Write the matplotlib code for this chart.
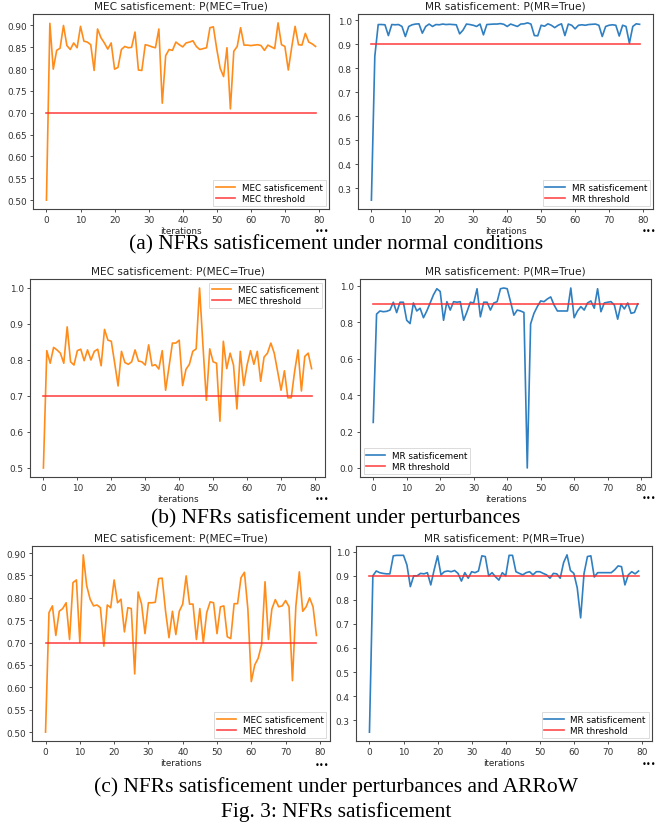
import numpy as np
import matplotlib
matplotlib.use('Agg')
import matplotlib.pyplot as plt
from matplotlib.ticker import MultipleLocator, FormatStrFormatter

# values, one per iteration (0..79)
mec_normal = [0.50, 0.905, 0.80, 0.843, 0.848, 0.90, 0.854, 0.845, 0.86, 0.849,
              0.898, 0.864, 0.862, 0.856, 0.797, 0.892, 0.872, 0.86, 0.846, 0.86,
              0.80, 0.804, 0.845, 0.852, 0.849, 0.85, 0.885, 0.798, 0.797, 0.856,
              0.854, 0.851, 0.849, 0.892, 0.722, 0.831, 0.845, 0.843, 0.862, 0.856,
              0.851, 0.86, 0.862, 0.865, 0.852, 0.845, 0.847, 0.849, 0.895, 0.897,
              0.846, 0.802, 0.783, 0.849, 0.709, 0.841, 0.852, 0.895, 0.855, 0.855,
              0.854, 0.855, 0.856, 0.854, 0.843, 0.855, 0.851, 0.847, 0.906, 0.856,
              0.852, 0.798, 0.85, 0.898, 0.856, 0.855, 0.882, 0.862, 0.858, 0.852]
mr_normal = [0.25, 0.85, 0.983, 0.983, 0.982, 0.937, 0.983, 0.982, 0.983, 0.975,
             0.933, 0.975, 0.982, 0.985, 0.986, 0.947, 0.975, 0.985, 0.975, 0.983,
             0.982, 0.985, 0.983, 0.984, 0.983, 0.982, 0.944, 0.96, 0.985, 0.983,
             0.98, 0.975, 0.985, 0.94, 0.983, 0.984, 0.985, 0.985, 0.987, 0.984,
             0.975, 0.985, 0.98, 0.975, 0.985, 0.986, 0.99, 0.985, 0.937, 0.936,
             0.98, 0.976, 0.986, 0.98, 0.97, 0.98, 0.986, 0.937, 0.985, 0.98,
             0.965, 0.98, 0.982, 0.98, 0.983, 0.984, 0.985, 0.98, 0.933, 0.975,
             0.98, 0.982, 0.98, 0.935, 0.98, 0.975, 0.905, 0.975, 0.986, 0.984]

mec_perturb = [0.50, 0.826, 0.791, 0.835, 0.828, 0.819, 0.791, 0.892, 0.795, 0.786,
               0.826, 0.83, 0.798, 0.828, 0.80, 0.824, 0.83, 0.784, 0.885, 0.855,
               0.852, 0.791, 0.728, 0.824, 0.793, 0.788, 0.795, 0.828, 0.797, 0.795,
               0.786, 0.842, 0.784, 0.787, 0.775, 0.826, 0.716, 0.781, 0.847, 0.847,
               0.855, 0.729, 0.774, 0.788, 0.824, 0.831, 1.0, 0.84, 0.688, 0.831,
               0.795, 0.791, 0.63, 0.852, 0.776, 0.819, 0.786, 0.664, 0.824, 0.729,
               0.786, 0.826, 0.788, 0.824, 0.741, 0.808, 0.819, 0.847, 0.819, 0.768,
               0.716, 0.77, 0.695, 0.695, 0.768, 0.828, 0.714, 0.81, 0.819, 0.776]
mr_perturb = [0.25, 0.844, 0.861, 0.857, 0.859, 0.866, 0.909, 0.852, 0.909, 0.909,
              0.81, 0.792, 0.905, 0.861, 0.876, 0.824, 0.861, 0.905, 0.95, 0.983,
              0.968, 0.81, 0.912, 0.866, 0.912, 0.909, 0.912, 0.81, 0.857, 0.909,
              0.905, 0.983, 0.829, 0.909, 0.909, 0.866, 0.905, 0.912, 0.983, 0.987,
              0.983, 0.912, 0.838, 0.866, 0.861, 0.853, 0.0, 0.79, 0.848, 0.885,
              0.916, 0.912, 0.927, 0.938, 0.894, 0.861, 0.861, 0.861, 0.861, 0.987,
              0.824, 0.861, 0.885, 0.866, 0.905, 0.916, 0.876, 0.983, 0.857, 0.905,
              0.909, 0.912, 0.894, 0.816, 0.898, 0.872, 0.905, 0.848, 0.853, 0.90]

mec_arrow = [0.50, 0.767, 0.782, 0.716, 0.77, 0.776, 0.789, 0.707, 0.834, 0.84,
             0.70, 0.896, 0.827, 0.797, 0.782, 0.784, 0.778, 0.692, 0.784, 0.778,
             0.84, 0.789, 0.797, 0.724, 0.778, 0.776, 0.63, 0.813, 0.786, 0.72,
             0.789, 0.789, 0.79, 0.843, 0.844, 0.77, 0.711, 0.77, 0.718, 0.77,
             0.786, 0.849, 0.786, 0.786, 0.707, 0.776, 0.70, 0.767, 0.791, 0.789,
             0.72, 0.78, 0.782, 0.713, 0.709, 0.787, 0.787, 0.845, 0.857, 0.775,
             0.613, 0.65, 0.665, 0.695, 0.836, 0.707, 0.775, 0.796, 0.78, 0.782,
             0.794, 0.78, 0.615, 0.782, 0.858, 0.77, 0.78, 0.80, 0.78, 0.716]
mr_arrow = [0.25, 0.90, 0.92, 0.913, 0.91, 0.908, 0.908, 0.983, 0.985, 0.985,
            0.985, 0.945, 0.855, 0.90, 0.90, 0.91, 0.908, 0.913, 0.862, 0.925,
            0.983, 0.904, 0.917, 0.92, 0.917, 0.922, 0.91, 0.878, 0.913, 0.89,
            0.917, 0.913, 0.92, 0.983, 0.98, 0.90, 0.913, 0.896, 0.882, 0.913,
            0.90, 0.985, 0.985, 0.917, 0.91, 0.904, 0.913, 0.917, 0.904, 0.917,
            0.917, 0.91, 0.904, 0.89, 0.91, 0.908, 0.89, 0.955, 0.987, 0.922,
            0.91, 0.85, 0.725, 0.91, 0.98, 0.983, 0.895, 0.913, 0.913, 0.913,
            0.913, 0.913, 0.925, 0.941, 0.938, 0.862, 0.904, 0.917, 0.908, 0.92]

mec_threshold = 0.7
mr_threshold = 0.9

captions = ['(a) NFRs satisficement under normal conditions',
            '(b) NFRs satisficement under perturbances',
            '(c) NFRs satisficement under perturbances and ARRoW']
fig_caption = 'Fig. 3: NFRs satisficement'

W, H = 658, 828


def box(x0, y0, x1, y1):
    """pixel box (top-left origin) -> figure fraction rect"""
    return [x0 / W, 1 - y1 / H, (x1 - x0) / W, (y1 - y0) / H]


def panel(fig, rect, values, threshold, name, color, loc, step, fmt):
    ax = fig.add_axes(rect)
    it = np.arange(len(values))
    ax.plot(it, values, color=color, lw=1.2, label=name + ' satisficement')
    ax.plot(it, [threshold] * len(values), color='#ff2a2a', lw=1.2,
            alpha=0.85, label=name + ' threshold')
    ax.set_title('%s satisficement: P(%s=True)' % (name, name),
                 fontsize=7.6, color='#222222', pad=4)
    ax.set_xlabel('iterations', fontsize=6.3, color='#222222', labelpad=1)
    ax.xaxis.set_major_locator(MultipleLocator(10))
    ax.yaxis.set_major_locator(MultipleLocator(step))
    ax.yaxis.set_major_formatter(FormatStrFormatter(fmt))
    ax.tick_params(labelsize=6.4, length=2.5, width=0.6, pad=2,
                   colors='#333333')
    for s in ax.spines.values():
        s.set_color('#444444')
        s.set_linewidth(0.8)
    leg = ax.legend(loc=loc, fontsize=6.3, frameon=True, fancybox=False,
                    borderpad=0.3, handlelength=2.2, labelspacing=0.25,
                    borderaxespad=0.4)
    leg.get_frame().set_edgecolor('#cccccc')
    leg.get_frame().set_linewidth(0.6)
    return ax


fig = plt.figure(figsize=(W / 100, H / 100), dpi=100)

orange = '#ff8c1a'
blue = '#2f7fc1'

# (a) normal conditions
panel(fig, box(33, 15, 329, 210), mec_normal, mec_threshold, 'MEC',
      orange, 'lower right', 0.05, '%.2f')
panel(fig, box(358, 15, 653, 210), mr_normal, mr_threshold, 'MR',
      blue, 'lower right', 0.1, '%.1f')

# (b) perturbances
panel(fig, box(30, 280, 325, 478), mec_perturb, mec_threshold, 'MEC',
      orange, 'upper right', 0.1, '%.1f')
panel(fig, box(360, 280, 651, 478), mr_perturb, mr_threshold, 'MR',
      blue, 'lower left', 0.2, '%.1f')

# (c) perturbances and ARRoW
panel(fig, box(32, 547, 330, 742), mec_arrow, mec_threshold, 'MEC',
      orange, 'lower right', 0.05, '%.2f')
panel(fig, box(356, 547, 652, 742), mr_arrow, mr_threshold, 'MR',
      blue, 'lower right', 0.1, '%.1f')

# captions below each row
serif = ['Liberation Serif', 'DejaVu Serif']
for cap, y in zip(captions, [245, 518, 787]):
    fig.text(336 / W, 1 - y / H, cap, ha='center', va='center',
             fontsize=15.5, family=serif)
fig.text(336 / W, 1 - 812 / H, fig_caption, ha='center', va='center',
         fontsize=15.5, family=serif)

# stray ellipsis dots at the lower right corner of each panel
for y_left, y_right in [(231, 232), (500, 499), (766, 765)]:
    fig.text(322 / W, 1 - y_left / H, '\u2022\u2022\u2022', ha='center',
             va='center', fontsize=6, family='DejaVu Sans')
    fig.text(649 / W, 1 - y_right / H, '\u2022\u2022\u2022', ha='center',
             va='center', fontsize=6, family='DejaVu Sans')

fig.savefig('out.png', dpi=100)
